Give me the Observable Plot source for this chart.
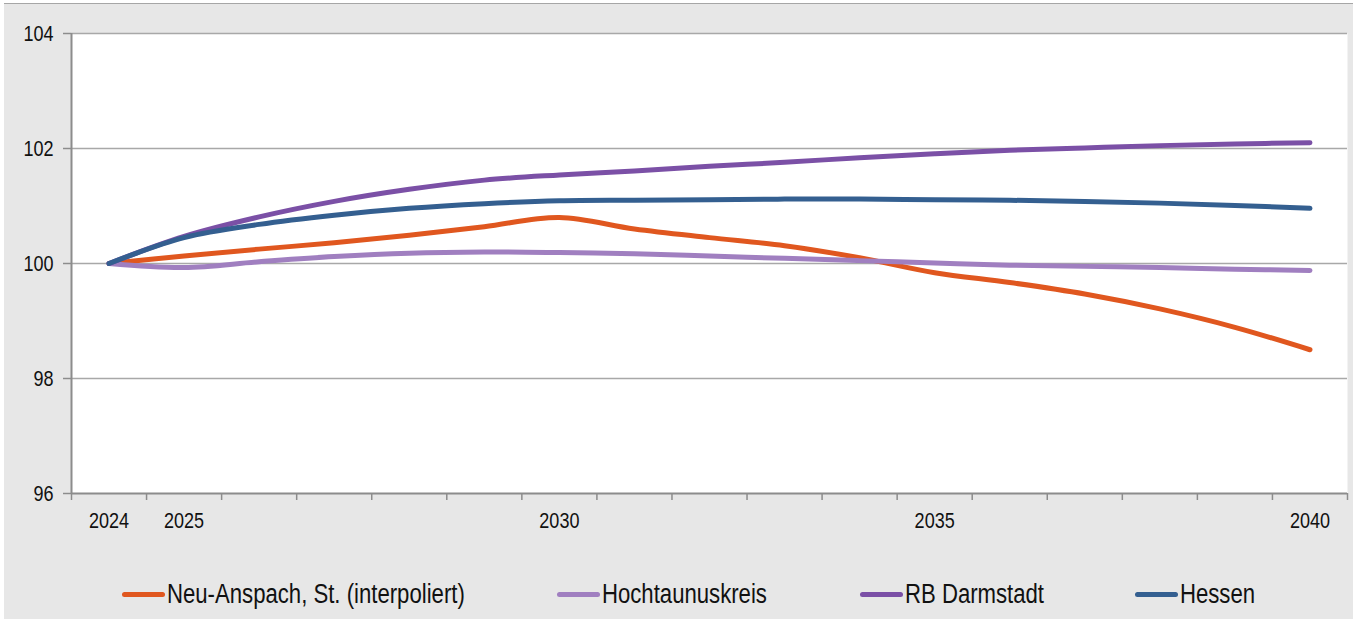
<!DOCTYPE html>
<html>
<head>
<meta charset="utf-8">
<script src="https://cdn.jsdelivr.net/npm/d3@7"></script>
<script src="https://cdn.jsdelivr.net/npm/@observablehq/plot@0.6"></script>
<style>
  html, body { margin: 0; padding: 0; background: #ffffff; }
  #box {
    position: absolute; left: 4px; top: 3px; width: 1349px; height: 616px;
    background: #e7e7e7; border-top: 1px solid #a6a6a6; box-sizing: border-box;
    font-family: "Liberation Sans", Arial, sans-serif;
  }
  #chart { position: absolute; left: 0; top: -1px; }
  #legend { position: absolute; left: 0; top: 570px; width: 100%; height: 40px; }
  .item { position: absolute; top: 0; display: flex; align-items: center; height: 40px;
    font-size: 27px; color: #111; white-space: nowrap; }
  .sw { width: 43px; height: 5px; border-radius: 3px; margin-right: 2px; flex: none; }
  .tx { display: inline-block; transform: scaleX(0.82); transform-origin: 0 50%; }
</style>
</head>
<body>
<div id="box">
  <div id="chart"></div>
  <div id="legend"></div>
</div>
<script>
const years = [2024, 2025, 2026, 2027, 2028, 2029, 2030, 2031, 2032, 2033, 2034, 2035, 2036, 2037, 2038, 2039, 2040];
const seriesNames = ["Neu-Anspach, St. (interpoliert)", "Hochtaunuskreis", "RB Darmstadt", "Hessen"];
const seriesColors = ["#e0571f", "#a07fc0", "#7b50a6", "#345f90"];
const neuAnspach   = [100, 100.13, 100.25, 100.36, 100.49, 100.64, 100.80, 100.60, 100.45, 100.31, 100.10, 99.84, 99.67, 99.47, 99.21, 98.89, 98.50];
const hochtaunus   = [100, 99.93, 100.03, 100.12, 100.18, 100.20, 100.19, 100.17, 100.13, 100.09, 100.05, 100.01, 99.97, 99.95, 99.93, 99.90, 99.88];
const rbDarmstadt  = [100, 100.47, 100.81, 101.08, 101.29, 101.45, 101.54, 101.61, 101.69, 101.76, 101.84, 101.91, 101.97, 102.01, 102.05, 102.08, 102.10];
const hessen       = [100, 100.45, 100.68, 100.84, 100.96, 101.04, 101.09, 101.10, 101.11, 101.12, 101.12, 101.11, 101.10, 101.08, 101.05, 101.01, 100.96];
const yTicks = [96, 98, 100, 102, 104];
const xLabels = [2024, 2025, 2030, 2035, 2040];

const allSeries = [neuAnspach, hochtaunus, rbDarmstadt, hessen];
const rows = [];
allSeries.forEach((vals, si) => vals.forEach((v, i) => rows.push({year: years[i], value: v, series: seriesNames[si]})));
const xBoundaries = d3.range(years.length + 1).map(i => years[0] - 0.5 + i);
const xMin = years[0] - 0.5, xMax = years[years.length - 1] + 0.5;

const font = '"Liberation Sans", Arial, sans-serif';

const chart = Plot.plot({
  width: 1349,
  height: 546,
  marginLeft: 67,
  marginRight: 6,
  marginTop: 30,
  marginBottom: 56,
  style: {background: "transparent", fontFamily: font, fontSize: "22px", color: "#111"},
  x: {domain: [xMin, xMax]},
  y: {domain: [96, 104]},
  color: {domain: seriesNames, range: seriesColors},
  marks: [
    Plot.frame({fill: "white", stroke: null}),
    Plot.gridY(yTicks.filter(t => t > 96), {stroke: "#a8a8a8", strokeOpacity: 1, strokeWidth: 1.3}),
    Plot.axisY(yTicks, {tickSize: 8, tickPadding: 10, stroke: "#8c8c8c", strokeWidth: 1.5, fontSize: 22, fill: "#111", label: null, tickFormat: d => String(d)}),
    Plot.axisX(xBoundaries, {tickSize: 7, stroke: "#8c8c8c", strokeWidth: 1.5, tickFormat: () => "", label: null}),
    Plot.ruleX([xMin], {stroke: "#8c8c8c", strokeWidth: 2}),
    Plot.ruleY([96], {stroke: "#8c8c8c", strokeWidth: 2}),
    Plot.axisX(xLabels, {tickSize: 0, tickPadding: 19, fontSize: 22, fill: "#111", label: null, tickFormat: d => String(d)}),
    Plot.lineY(rows, {x: "year", y: "value", z: "series", stroke: "series", strokeWidth: 5, curve: "catmull-rom", strokeLinecap: "round", strokeLinejoin: "round"})
  ]
});
// condense text horizontally (narrow typeface look)
chart.querySelectorAll("text").forEach(t => {
  const tr = t.getAttribute("transform");
  if (tr) {
    t.setAttribute("transform", tr + " scale(0.82,1)");
  } else {
    const x = +(t.getAttribute("x") || 0);
    t.setAttribute("transform", `translate(${x},0) scale(0.82,1) translate(${-x},0)`);
  }
});
document.getElementById("chart").appendChild(chart);

const legendX = [122, 557, 860, 1135];
const legend = document.getElementById("legend");
seriesNames.forEach((name, i) => {
  const it = document.createElement("div");
  it.className = "item";
  it.style.left = (legendX[i] - 4) + "px";
  const sw = document.createElement("div");
  sw.className = "sw";
  sw.style.background = seriesColors[i];
  const tx = document.createElement("span");
  tx.className = "tx";
  tx.textContent = name;
  it.appendChild(sw); it.appendChild(tx);
  legend.appendChild(it);
});
</script>
</body>
</html>
